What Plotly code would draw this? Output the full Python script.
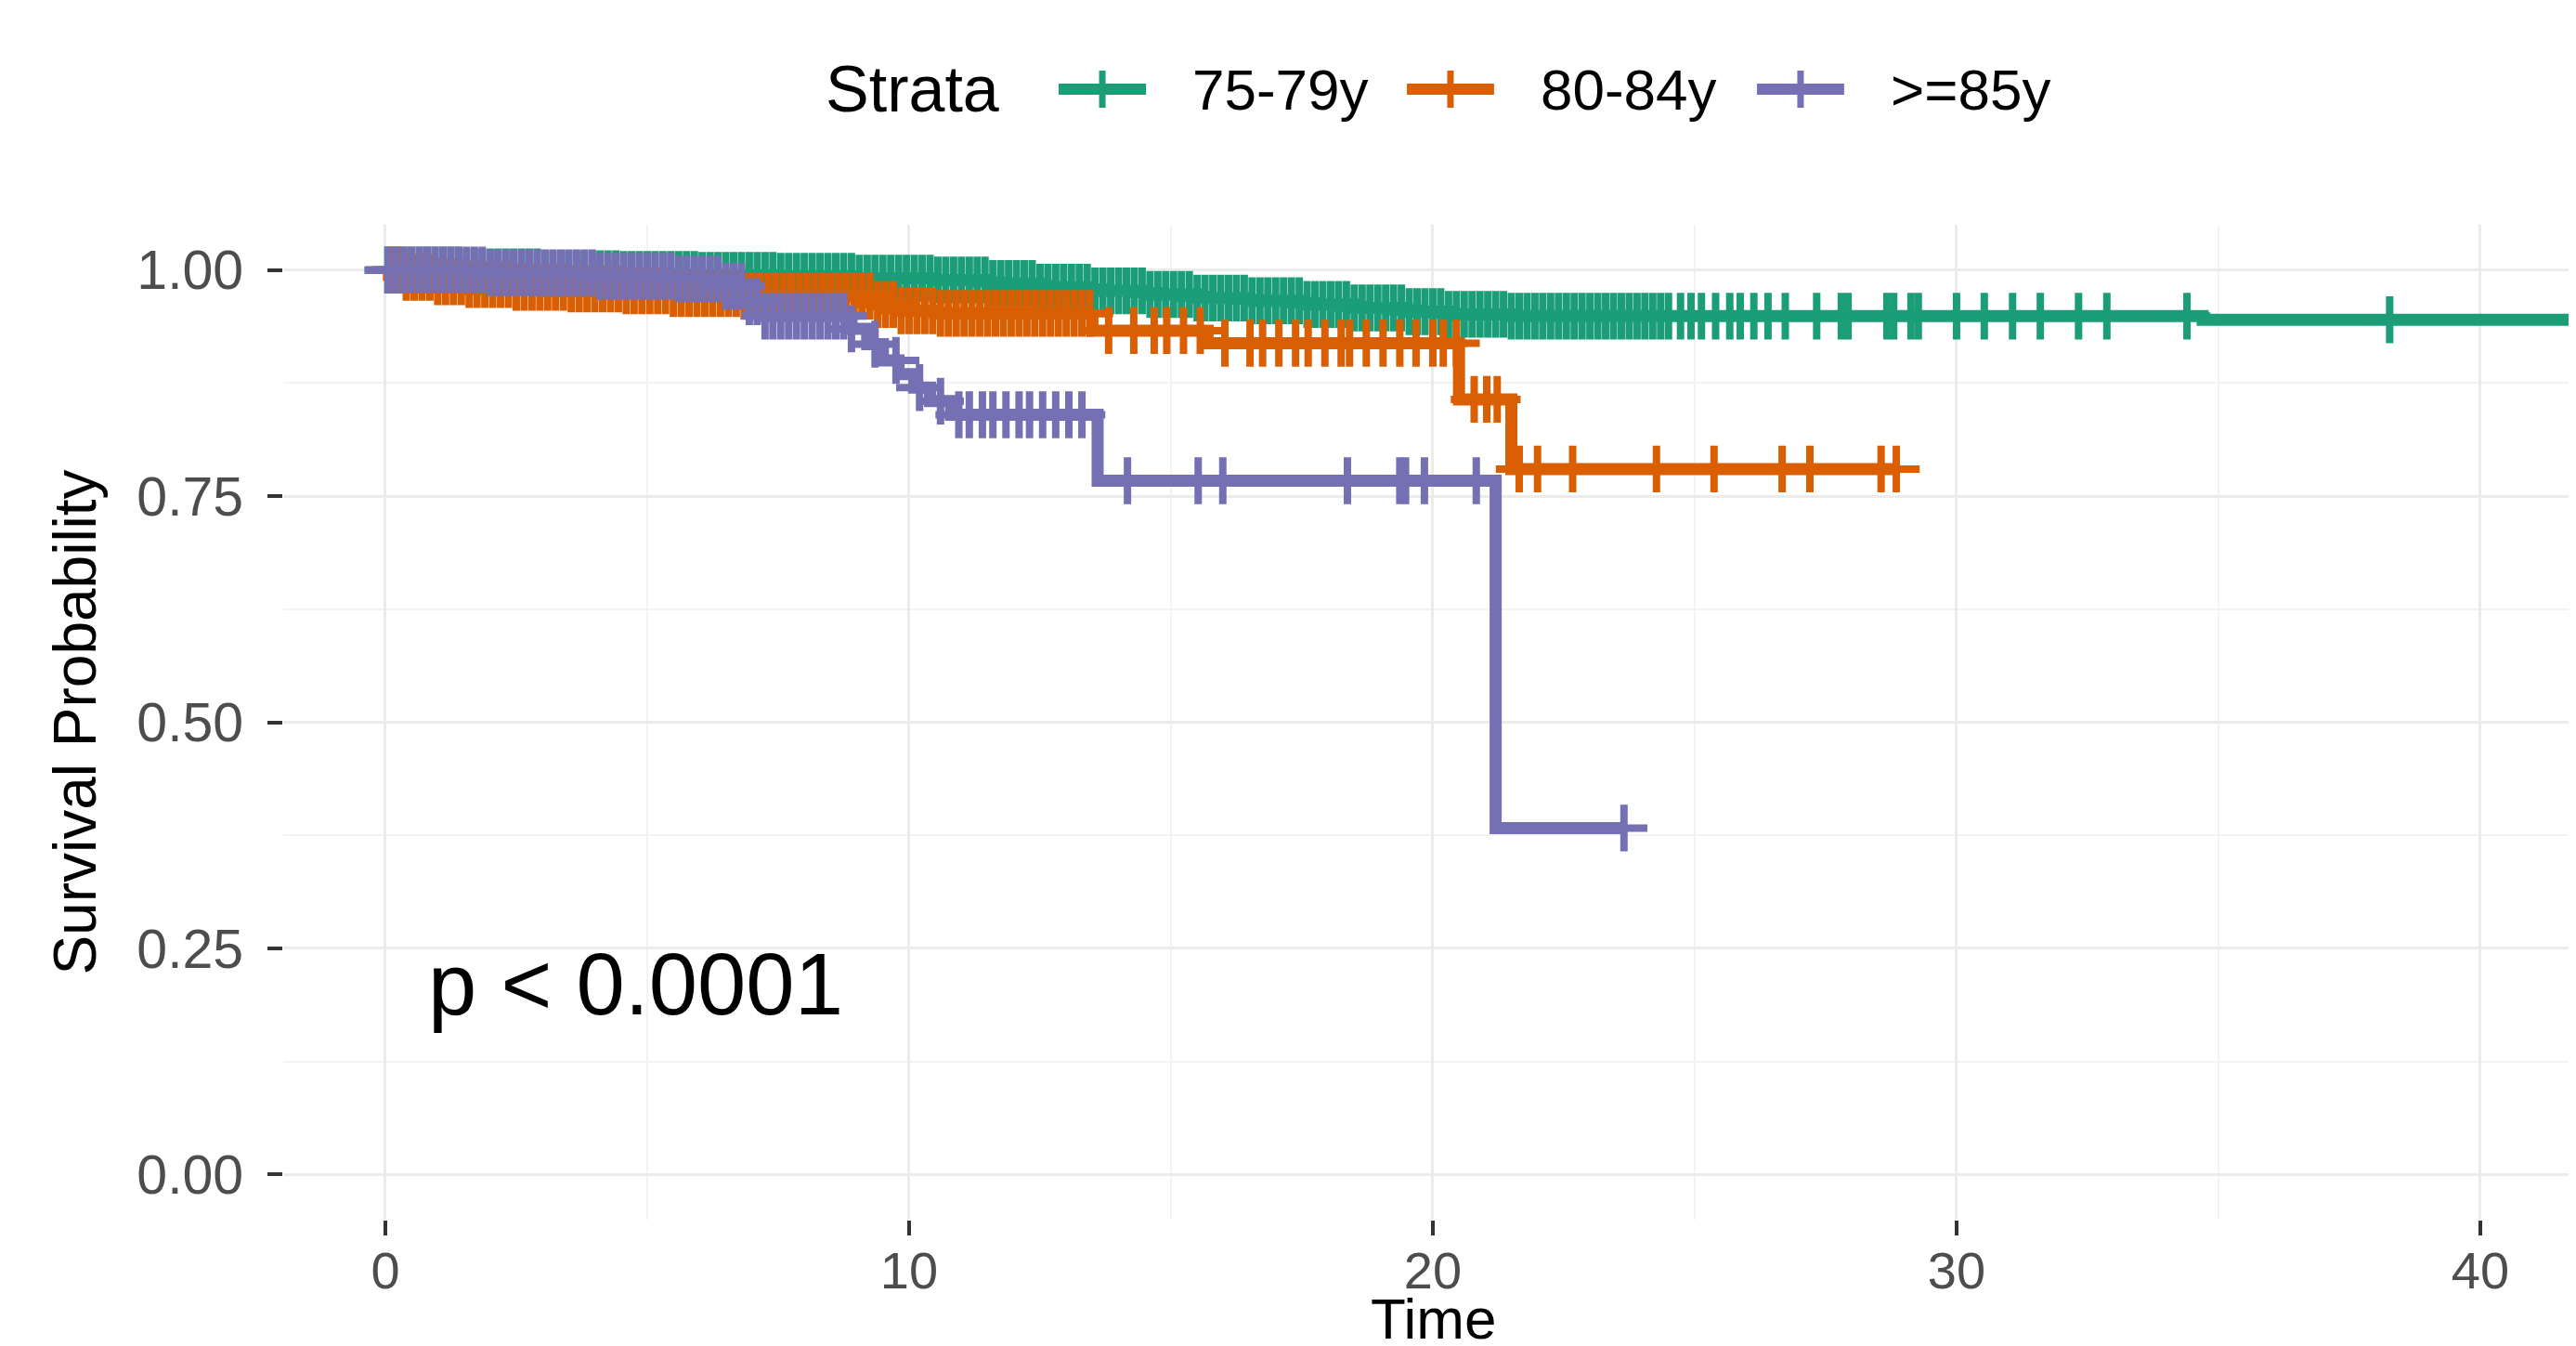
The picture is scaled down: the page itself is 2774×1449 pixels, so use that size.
import numpy as np
import plotly.graph_objects as go

# ---------------- data ----------------
strata = ["75-79y", "80-84y", ">=85y"]
colors = ["#1B9E77", "#D95F02", "#7570B3"]
legend_title = "Strata"
x_title = "Time"
y_title = "Survival Probability"

# Kaplan-Meier step functions: event times and survival just after them
green_t = [0, 1.5, 3.0, 4.5, 6.0, 7.5, 9.0, 10.5, 11.5, 12.5, 13.5, 14.5, 15.5,
           16.5, 17.5, 18.5, 19.5, 20.3, 21.5, 34.7]
green_s = [1.0, 0.998, 0.996, 0.995, 0.994, 0.993, 0.991, 0.989, 0.985, 0.981,
           0.977, 0.973, 0.969, 0.966, 0.962, 0.958, 0.954, 0.951, 0.949, 0.945]
green_end = 43.0

orange_t = [0, 0.4, 0.9, 1.6, 2.5, 3.5, 4.5, 5.5, 6.8, 9.3, 9.8, 10.5, 13.5,
            15.7, 20.5, 21.5]
orange_s = [1.0, 0.992, 0.987, 0.984, 0.981, 0.979, 0.977, 0.974, 0.971, 0.962,
            0.955, 0.952, 0.933, 0.919, 0.857, 0.780]
orange_end = 28.85

purple_t = [0, 2.0, 4.0, 5.5, 6.5, 6.9, 7.2, 8.9, 9.2, 9.5, 9.8, 10.1, 10.4,
            10.8, 13.6, 21.2]
purple_s = [1.0, 0.997, 0.993, 0.990, 0.982, 0.965, 0.949, 0.935, 0.918, 0.900,
            0.885, 0.870, 0.855, 0.840, 0.767, 0.383]
purple_end = 23.65

# censoring times
green_c = [0.05, 0.2, 0.35, 0.5, 0.65, 0.8, 0.95, 1.1, 1.25, 1.4, 1.55, 1.7, 1.85,
           2.0, 2.15, 2.3, 2.45, 2.6, 2.75, 2.9, 3.05, 3.2, 3.35, 3.5, 3.65, 3.8, 3.95,
           4.1, 4.25, 4.4, 4.55, 4.7, 4.85, 5.0, 5.15, 5.3, 5.45, 5.6, 5.75, 5.9,
           6.05, 6.2, 6.35, 6.5, 6.65, 6.8, 6.95, 7.1, 7.25, 7.4, 7.55, 7.7, 7.85,
           8.0, 8.15, 8.3, 8.45, 8.6, 8.75, 8.9, 9.05, 9.2, 9.35, 9.5, 9.65, 9.8, 9.95,
           10.1, 10.25, 10.4, 10.55, 10.7, 10.85, 11.0, 11.15, 11.3, 11.45, 11.6, 11.75,
           11.9, 12.05, 12.2, 12.35, 12.5, 12.65, 12.8, 12.95, 13.1, 13.25, 13.4, 13.55,
           13.7, 13.85, 14.0, 14.15, 14.3, 14.45, 14.6, 14.75, 14.9, 15.05, 15.2, 15.35,
           15.5, 15.65, 15.8, 15.95, 16.1, 16.25, 16.4, 16.55, 16.7, 16.85, 17.0, 17.15,
           17.3, 17.45, 17.6, 17.75, 17.9, 18.05, 18.2, 18.35, 18.5, 18.65, 18.8, 18.95,
           19.1, 19.25, 19.4, 19.55, 19.7, 19.85, 20.0, 20.15, 20.3, 20.45, 20.6, 20.75,
           20.9, 21.05, 21.2, 21.35, 21.5, 21.65, 21.8, 21.95, 22.1, 22.25, 22.4, 22.55,
           22.7, 22.85, 23.0, 23.15, 23.3, 23.45, 23.6, 23.75, 23.9, 24.05, 24.2, 24.35,
           24.5, 24.73, 24.93, 25.13, 25.4, 25.67, 25.87, 26.13, 26.4, 26.73, 27.33,
           27.8, 27.93, 28.67, 28.8, 29.13, 29.27, 30.0, 30.53, 31.07, 31.6, 32.33,
           32.87, 34.4, 38.27]
orange_c = [0.1, 0.25, 0.4, 0.55, 0.7, 0.85, 1.0, 1.15, 1.3, 1.45, 1.6, 1.75, 1.9,
            2.05, 2.2, 2.35, 2.5, 2.65, 2.8, 2.95, 3.1, 3.25, 3.4, 3.55, 3.7, 3.85,
            4.0, 4.15, 4.3, 4.45, 4.6, 4.75, 4.9, 5.05, 5.2, 5.35, 5.5, 5.65, 5.8, 5.95,
            6.1, 6.25, 6.4, 6.55, 6.7, 6.85, 7.0, 7.15, 7.3, 7.45, 7.6, 7.75, 7.9, 8.05,
            8.2, 8.35, 8.5, 8.65, 8.8, 8.95, 9.1, 9.25, 9.4, 9.55, 9.7, 9.85, 10.0,
            10.15, 10.3, 10.45, 10.6, 10.75, 10.9, 11.05, 11.2, 11.35, 11.5, 11.65,
            11.8, 11.95, 12.1, 12.25, 12.4, 12.55, 12.7, 12.85, 13.0, 13.15, 13.3,
            13.45, 13.81, 14.29, 14.68, 14.92, 15.24, 15.56, 16.03, 16.51, 16.75,
            17.06, 17.38, 17.62, 17.94, 18.25, 18.41, 18.73, 19.05, 19.37, 19.68,
            20.0, 20.2, 20.45, 20.79, 21.03, 21.23, 21.65, 22.0, 22.67, 24.27, 25.37,
            26.67, 27.2, 28.56, 28.85]
purple_c = [0.05, 0.2, 0.35, 0.5, 0.65, 0.8, 0.95, 1.1, 1.25, 1.4, 1.55, 1.7, 1.85,
            2.0, 2.15, 2.3, 2.45, 2.6, 2.75, 2.9, 3.05, 3.2, 3.35, 3.5, 3.65, 3.8, 3.95,
            4.1, 4.25, 4.4, 4.55, 4.7, 4.85, 5.0, 5.15, 5.3, 5.45, 5.6, 5.75, 5.9,
            6.05, 6.2, 6.35, 6.5, 6.65, 6.8, 6.95, 7.1, 7.25, 7.4, 7.55, 7.7, 7.85,
            8.0, 8.15, 8.3, 8.45, 8.6, 8.75, 8.9, 9.35, 9.75, 10.2, 10.6, 10.95, 11.15,
            11.4, 11.6, 11.85, 12.1, 12.3, 12.55, 12.8, 13.05, 13.3, 14.17, 15.52,
            15.99, 18.37, 19.37, 19.48, 19.84, 20.83, 23.65]

x_ticks = [0, 10, 20, 30, 40]
y_ticks = [0, 0.25, 0.5, 0.75, 1.0]
y_ticktext = ["0.00", "0.25", "0.50", "0.75", "1.00"]
p_text = "p < 0.0001"

FONT = "Liberation Sans, Arial, Helvetica, sans-serif"

groups = [
    (green_t, green_s, green_end, green_c),
    (orange_t, orange_s, orange_end, orange_c),
    (purple_t, purple_s, purple_end, purple_c),
]

fig = go.Figure()

LINE_W = 13
MK_SIZE = 36
MK_LW = 8

# step lines
for (t, s, end, c), name, col in zip(groups, strata, colors):
    fig.add_trace(go.Scatter(
        x=list(t) + [end], y=list(s) + [s[-1]], mode="lines", name=name,
        line=dict(color=col, width=LINE_W, shape="hv"),
        showlegend=False, hoverinfo="skip", cliponaxis=True))

# censor marks (value of the step function at each censoring time)
for (t, s, end, c), name, col in zip(groups, strata, colors):
    ta = np.array(t)
    sa = np.array(s)
    idx = np.searchsorted(ta, np.array(c), side="right") - 1
    fig.add_trace(go.Scatter(
        x=c, y=sa[idx], mode="markers", name=name,
        marker=dict(symbol="cross-thin", size=MK_SIZE,
                    line=dict(color=col, width=MK_LW), color=col),
        showlegend=False, hoverinfo="skip", cliponaxis=True))

# ---------------- legend drawn on top (paper coordinates) ----------------
LEG_Y = 1.1363
ARM = 0.0187
sym_x0 = [0.3371, 0.4885, 0.6407]
sym_x1 = [0.3751, 0.5264, 0.6786]
lab_x = [0.3944, 0.5458, 0.6980]

fig.add_annotation(x=0.2350, y=LEG_Y, xref="paper", yref="paper",
                   text=legend_title, showarrow=False, xanchor="left",
                   yanchor="middle", font=dict(family=FONT, size=70, color="black"))
for name, col, x0, x1, xl in zip(strata, colors, sym_x0, sym_x1, lab_x):
    fig.add_shape(type="line", xref="paper", yref="paper", x0=x0, x1=x1,
                  y0=LEG_Y, y1=LEG_Y, line=dict(color=col, width=12))
    xc = (x0 + x1) / 2
    fig.add_shape(type="line", xref="paper", yref="paper", x0=xc, x1=xc,
                  y0=LEG_Y - ARM, y1=LEG_Y + ARM, line=dict(color=col, width=7))
    fig.add_annotation(x=xl, y=LEG_Y, xref="paper", yref="paper", text=name,
                       showarrow=False, xanchor="left", yanchor="middle",
                       font=dict(family=FONT, size=62, color="black"))

fig.add_annotation(x=0.78, y=0.21, xref="x", yref="y", text=p_text,
                   showarrow=False, xanchor="left", yanchor="middle",
                   font=dict(family=FONT, size=94, color="black"))

# x-axis title, its box ending just inside the bottom edge of the page
fig.add_annotation(x=0.5, y=-0.1335, xref="paper", yref="paper", text=x_title,
                   showarrow=False, xanchor="center", yanchor="bottom",
                   font=dict(family=FONT, size=62, color="black"))

fig.update_layout(
    width=2774, height=1449,
    margin=dict(l=297, r=0, t=234, b=144, autoexpand=False),
    plot_bgcolor="white", paper_bgcolor="white",
    font=dict(family=FONT, color="black"),
    showlegend=False,
)

fig.update_xaxes(
    range=[-1.95, 41.97], tickvals=x_ticks, ticks="outside", ticklen=16,
    tickwidth=4, tickcolor="#333333", ticklabelstandoff=-10,
    tickfont=dict(family=FONT, size=56, color="#4D4D4D"),
    showgrid=True, gridcolor="#EBEBEB", gridwidth=3, zeroline=False,
    showline=False,
    minor=dict(tickvals=[5, 15, 25, 35], showgrid=True, gridcolor="#F3F3F3",
               gridwidth=2, ticks=""),
)
fig.update_yaxes(
    range=[-0.05, 1.05], tickvals=y_ticks, ticktext=y_ticktext,
    ticks="outside", ticklen=16, tickwidth=4, tickcolor="#333333",
    ticklabelstandoff=14,
    tickfont=dict(family=FONT, size=59, color="#4D4D4D"),
    showgrid=True, gridcolor="#EBEBEB", gridwidth=3, zeroline=False,
    showline=False,
    minor=dict(tickvals=[0.125, 0.375, 0.625, 0.875], showgrid=True,
               gridcolor="#F3F3F3", gridwidth=2, ticks=""),
    title=dict(text=y_title,
               font=dict(family=FONT, size=64, color="black"), standoff=22),
)

fig.write_html("out.html")
